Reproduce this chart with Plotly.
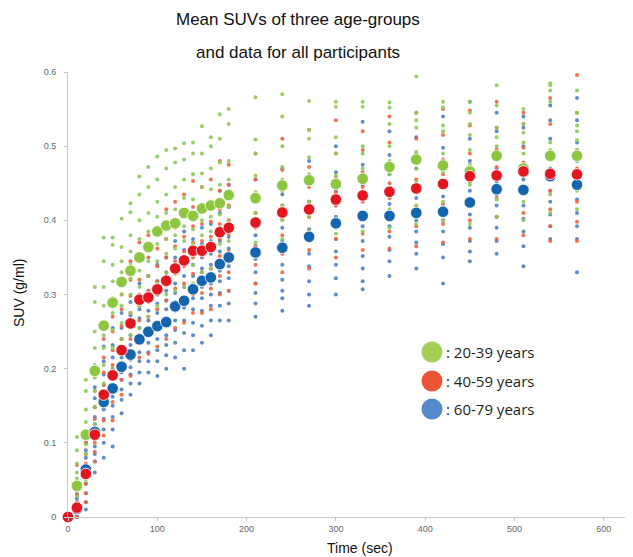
import plotly.graph_objects as go

# ---------------- data ----------------
times = [0, 10, 20, 30, 40, 50, 60, 70, 80, 90, 100, 110, 120, 130, 140, 150, 160, 170, 180,
         210, 240, 270, 300, 330, 360, 390, 420, 450, 480, 510, 540, 570]

green_mean = [0, 0.042, 0.111, 0.197, 0.258, 0.289, 0.317, 0.332, 0.350, 0.364, 0.385, 0.393,
              0.396, 0.410, 0.406, 0.416, 0.420, 0.423, 0.434, 0.430, 0.447, 0.454, 0.449,
              0.456, 0.472, 0.482, 0.474, 0.466, 0.487, 0.470, 0.487, 0.487]
red_mean = [0, 0.0126, 0.058, 0.111, 0.165, 0.191, 0.225, 0.261, 0.293, 0.296, 0.307, 0.3185,
            0.335, 0.346, 0.359, 0.359, 0.364, 0.384, 0.390, 0.397, 0.4106, 0.4147, 0.428,
            0.4335, 0.4385, 0.443, 0.449, 0.4596, 0.4605, 0.466, 0.4627, 0.462]
blue_mean = [0, 0.0108, 0.064, 0.1146, 0.155, 0.1734, 0.2026, 0.219, 0.2395, 0.2497, 0.2574,
             0.2628, 0.284, 0.2915, 0.307, 0.3185, 0.323, 0.341, 0.350, 0.3567, 0.363, 0.3778,
             0.396, 0.406, 0.406, 0.410, 0.4115, 0.424, 0.442, 0.441, 0.4596, 0.448]

green_pts = [
    [0, 0, 0],
    [0.018, 0.028, 0.036, 0.044, 0.052, 0.060, 0.072, 0.090, 0.108],
    [0.050, 0.068, 0.085, 0.098, 0.112, 0.128, 0.145, 0.170, 0.185],
    [0.125, 0.148, 0.170, 0.188, 0.205, 0.228, 0.250, 0.290, 0.310],
    [0.180, 0.205, 0.228, 0.245, 0.262, 0.285, 0.310, 0.345, 0.377],
    [0.200, 0.228, 0.252, 0.275, 0.295, 0.318, 0.340, 0.367, 0.377],
    [0.240, 0.262, 0.285, 0.300, 0.315, 0.330, 0.345, 0.364, 0.402],
    [0.245, 0.275, 0.300, 0.322, 0.340, 0.358, 0.380, 0.411, 0.423],
    [0.255, 0.285, 0.310, 0.332, 0.352, 0.375, 0.400, 0.435, 0.459],
    [0.270, 0.300, 0.325, 0.345, 0.365, 0.385, 0.410, 0.445, 0.472],
    [0.285, 0.315, 0.345, 0.368, 0.385, 0.405, 0.425, 0.455, 0.486],
    [0.300, 0.330, 0.355, 0.375, 0.392, 0.410, 0.435, 0.470, 0.495],
    [0.305, 0.335, 0.362, 0.380, 0.398, 0.415, 0.445, 0.478, 0.497],
    [0.310, 0.345, 0.372, 0.392, 0.410, 0.430, 0.455, 0.482, 0.504],
    [0.315, 0.340, 0.368, 0.388, 0.405, 0.428, 0.462, 0.490, 0.505],
    [0.330, 0.355, 0.380, 0.400, 0.418, 0.445, 0.463, 0.490, 0.527],
    [0.335, 0.362, 0.385, 0.405, 0.420, 0.442, 0.470, 0.500, 0.512],
    [0.340, 0.368, 0.390, 0.408, 0.425, 0.448, 0.478, 0.510, 0.543],
    [0.345, 0.372, 0.398, 0.418, 0.436, 0.455, 0.480, 0.530, 0.550],
    [0.370, 0.392, 0.410, 0.425, 0.438, 0.460, 0.490, 0.509, 0.566],
    [0.375, 0.400, 0.420, 0.440, 0.455, 0.472, 0.500, 0.540, 0.570],
    [0.385, 0.405, 0.425, 0.448, 0.462, 0.485, 0.510, 0.522, 0.561],
    [0.382, 0.402, 0.428, 0.445, 0.460, 0.490, 0.512, 0.553, 0.560],
    [0.385, 0.410, 0.430, 0.452, 0.470, 0.490, 0.500, 0.553, 0.560],
    [0.390, 0.415, 0.440, 0.462, 0.480, 0.500, 0.530, 0.552, 0.559],
    [0.395, 0.420, 0.452, 0.470, 0.492, 0.525, 0.535, 0.545, 0.594],
    [0.400, 0.425, 0.445, 0.465, 0.490, 0.520, 0.528, 0.552, 0.560],
    [0.395, 0.420, 0.448, 0.475, 0.495, 0.515, 0.530, 0.545, 0.560],
    [0.405, 0.428, 0.460, 0.485, 0.500, 0.512, 0.525, 0.555, 0.582],
    [0.400, 0.425, 0.445, 0.470, 0.490, 0.505, 0.518, 0.530, 0.550],
    [0.410, 0.435, 0.465, 0.495, 0.505, 0.560, 0.575, 0.582, 0.585],
    [0.415, 0.440, 0.468, 0.495, 0.508, 0.520, 0.528, 0.545, 0.575],
]

red_pts = [
    [0, 0],
    [0.000, 0.005, 0.010, 0.015, 0.020, 0.030, 0.045, 0.070],
    [0.020, 0.032, 0.045, 0.055, 0.062, 0.072, 0.085, 0.100],
    [0.075, 0.088, 0.100, 0.110, 0.120, 0.132, 0.148, 0.170],
    [0.110, 0.130, 0.150, 0.165, 0.178, 0.195, 0.215, 0.240],
    [0.130, 0.155, 0.175, 0.190, 0.205, 0.225, 0.250, 0.270],
    [0.165, 0.185, 0.205, 0.222, 0.240, 0.258, 0.280, 0.300],
    [0.190, 0.215, 0.240, 0.258, 0.275, 0.298, 0.320, 0.345],
    [0.215, 0.240, 0.265, 0.285, 0.300, 0.320, 0.345, 0.370],
    [0.220, 0.245, 0.270, 0.290, 0.305, 0.325, 0.350, 0.380],
    [0.230, 0.255, 0.280, 0.300, 0.318, 0.338, 0.362, 0.390],
    [0.240, 0.268, 0.292, 0.312, 0.330, 0.350, 0.375, 0.415],
    [0.255, 0.282, 0.308, 0.328, 0.345, 0.365, 0.390, 0.425],
    [0.262, 0.290, 0.315, 0.338, 0.358, 0.378, 0.405, 0.435],
    [0.275, 0.300, 0.328, 0.350, 0.370, 0.392, 0.418, 0.453],
    [0.275, 0.302, 0.330, 0.352, 0.372, 0.395, 0.420, 0.445],
    [0.280, 0.308, 0.335, 0.358, 0.378, 0.398, 0.425, 0.455],
    [0.300, 0.325, 0.352, 0.375, 0.395, 0.415, 0.440, 0.480],
    [0.305, 0.330, 0.358, 0.382, 0.400, 0.420, 0.448, 0.475],
    [0.315, 0.340, 0.365, 0.390, 0.410, 0.428, 0.455, 0.490],
    [0.330, 0.355, 0.380, 0.402, 0.420, 0.440, 0.468, 0.510],
    [0.335, 0.360, 0.385, 0.405, 0.425, 0.445, 0.472, 0.522],
    [0.350, 0.375, 0.400, 0.420, 0.438, 0.458, 0.490, 0.535],
    [0.360, 0.382, 0.405, 0.425, 0.445, 0.465, 0.495, 0.520],
    [0.362, 0.385, 0.410, 0.430, 0.450, 0.470, 0.505, 0.540],
    [0.365, 0.392, 0.418, 0.438, 0.455, 0.478, 0.510, 0.545],
    [0.370, 0.395, 0.422, 0.445, 0.462, 0.482, 0.515, 0.550],
    [0.375, 0.400, 0.428, 0.452, 0.470, 0.490, 0.528, 0.548],
    [0.375, 0.405, 0.430, 0.455, 0.472, 0.495, 0.525, 0.560],
    [0.380, 0.410, 0.438, 0.460, 0.478, 0.498, 0.530, 0.545],
    [0.372, 0.392, 0.415, 0.440, 0.460, 0.490, 0.530, 0.565],
    [0.372, 0.398, 0.425, 0.450, 0.470, 0.495, 0.545, 0.596],
]

blue_pts = [
    [0, 0],
    [0.000, 0.000, 0.003, 0.006, 0.008, 0.012, 0.015, 0.020, 0.025, 0.030, 0.035],
    [0.010, 0.020, 0.032, 0.045, 0.055, 0.062, 0.070, 0.080, 0.090, 0.100, 0.115],
    [0.060, 0.075, 0.085, 0.095, 0.105, 0.115, 0.125, 0.135, 0.148, 0.160, 0.175],
    [0.080, 0.100, 0.118, 0.132, 0.145, 0.155, 0.165, 0.178, 0.192, 0.210, 0.230],
    [0.095, 0.118, 0.135, 0.150, 0.162, 0.175, 0.188, 0.200, 0.215, 0.232, 0.255],
    [0.140, 0.158, 0.172, 0.185, 0.195, 0.205, 0.215, 0.228, 0.240, 0.255, 0.275],
    [0.165, 0.180, 0.192, 0.202, 0.212, 0.222, 0.232, 0.245, 0.258, 0.272, 0.290],
    [0.180, 0.195, 0.210, 0.222, 0.235, 0.245, 0.255, 0.268, 0.280, 0.295, 0.315],
    [0.195, 0.210, 0.222, 0.235, 0.245, 0.255, 0.265, 0.278, 0.292, 0.305, 0.325],
    [0.190, 0.210, 0.225, 0.240, 0.252, 0.262, 0.275, 0.288, 0.300, 0.318, 0.340],
    [0.200, 0.218, 0.232, 0.245, 0.258, 0.268, 0.280, 0.292, 0.305, 0.325, 0.350],
    [0.215, 0.235, 0.252, 0.265, 0.278, 0.290, 0.302, 0.315, 0.330, 0.350, 0.372],
    [0.200, 0.225, 0.248, 0.265, 0.282, 0.295, 0.310, 0.325, 0.342, 0.360, 0.385],
    [0.225, 0.245, 0.262, 0.280, 0.295, 0.310, 0.325, 0.340, 0.355, 0.375, 0.400],
    [0.235, 0.258, 0.278, 0.295, 0.310, 0.322, 0.335, 0.350, 0.368, 0.390, 0.420],
    [0.245, 0.265, 0.285, 0.300, 0.315, 0.328, 0.340, 0.355, 0.372, 0.395, 0.425],
    [0.265, 0.285, 0.302, 0.318, 0.332, 0.345, 0.358, 0.372, 0.390, 0.410, 0.440],
    [0.265, 0.288, 0.305, 0.322, 0.338, 0.350, 0.362, 0.378, 0.395, 0.418, 0.448],
    [0.270, 0.288, 0.302, 0.315, 0.330, 0.348, 0.365, 0.380, 0.398, 0.425, 0.455],
    [0.278, 0.295, 0.305, 0.320, 0.340, 0.358, 0.372, 0.390, 0.410, 0.435, 0.470],
    [0.285, 0.300, 0.318, 0.338, 0.355, 0.372, 0.388, 0.405, 0.425, 0.450, 0.480],
    [0.300, 0.322, 0.340, 0.358, 0.375, 0.390, 0.405, 0.420, 0.440, 0.465, 0.500],
    [0.307, 0.318, 0.335, 0.352, 0.372, 0.392, 0.410, 0.428, 0.448, 0.475, 0.533],
    [0.325, 0.345, 0.360, 0.378, 0.392, 0.408, 0.422, 0.440, 0.462, 0.488, 0.520],
    [0.335, 0.355, 0.370, 0.385, 0.400, 0.415, 0.430, 0.448, 0.470, 0.490, 0.512],
    [0.315, 0.350, 0.368, 0.385, 0.400, 0.415, 0.432, 0.450, 0.472, 0.498, 0.540],
    [0.345, 0.358, 0.372, 0.390, 0.408, 0.425, 0.440, 0.458, 0.480, 0.510, 0.560],
    [0.355, 0.372, 0.390, 0.405, 0.420, 0.435, 0.452, 0.470, 0.495, 0.520, 0.545],
    [0.338, 0.365, 0.385, 0.402, 0.420, 0.438, 0.455, 0.475, 0.500, 0.525, 0.540],
    [0.375, 0.392, 0.408, 0.425, 0.440, 0.455, 0.470, 0.488, 0.510, 0.535, 0.555],
    [0.330, 0.375, 0.392, 0.410, 0.428, 0.445, 0.462, 0.480, 0.505, 0.535, 0.565],
]

group_labels = ["20-39 years", "40-59 years", "60-79 years"]
x_ticks = [0, 100, 200, 300, 400, 500, 600]
y_ticks = [0, 0.1, 0.2, 0.3, 0.4, 0.5, 0.6]
y_tick_text = ["0", "0.1", "0.2", "0.3", "0.4", "0.5", "0.6"]

# ---------------- styling ----------------
dot_colors = {"g": "#8fc95a", "r": "#ee6540", "b": "#4f7fc6"}
mean_colors = {"g": "#8dc63f", "r": "#e3161f", "b": "#1464ae"}
legend_colors = ["#a6cf55", "#eb5535", "#5589c9"]

OFF = 8  # page body margin in the browser
W, H = 633 - OFF, 557 - OFF
L, R, T, B = 68 - OFF, 0, 72 - OFF, 40
PW, PH = W - L - R, H - T - B


def px_x(X):
    return (X - OFF - L) / PW


def px_y(Y):
    return (H - B - (Y - OFF)) / PH


def flatten(pts):
    xs, ys = [], []
    for t, vals in zip(times, pts):
        for v in vals:
            xs.append(t)
            ys.append(v)
    return xs, ys


fig = go.Figure()

for key, pts in (("b", blue_pts), ("r", red_pts), ("g", green_pts)):
    xs, ys = flatten(pts)
    fig.add_trace(go.Scatter(
        x=xs, y=ys, mode="markers", showlegend=False, hoverinfo="skip",
        marker=dict(size=4, color=dot_colors[key], opacity=0.9, line=dict(width=0)),
        cliponaxis=False,
    ))

for key, means in (("g", green_mean), ("b", blue_mean), ("r", red_mean)):
    fig.add_trace(go.Scatter(
        x=times, y=means, mode="markers", showlegend=False,
        marker=dict(size=11.5, color=mean_colors[key], line=dict(width=0.8, color="white")),
        cliponaxis=False,
    ))

# custom legend
leg_x = 432
leg_y = [352, 381, 409]
for i, (lab, col) in enumerate(zip(group_labels, legend_colors)):
    fig.add_shape(type="circle", xref="paper", yref="paper",
                  xsizemode="pixel", ysizemode="pixel",
                  xanchor=px_x(leg_x), yanchor=px_y(leg_y[i]),
                  x0=-10.5, x1=10.5, y0=-10.5, y1=10.5,
                  fillcolor=col, line=dict(width=0))
    fig.add_annotation(xref="paper", yref="paper", x=px_x(444), y=px_y(leg_y[i]),
                       xanchor="left", yanchor="middle", showarrow=False,
                       text=": " + lab,
                       font=dict(family="Open Sans, Lato, sans-serif", size=15, color="#231f20"))

# titles
title_font = dict(family="Liberation Sans, Arial", size=17, color="#111")
fig.add_annotation(xref="paper", yref="paper", x=px_x(298), y=px_y(20), xanchor="center",
                   yanchor="middle", showarrow=False, text="Mean SUVs of three age-groups", font=title_font)
fig.add_annotation(xref="paper", yref="paper", x=px_x(298), y=px_y(53), xanchor="center",
                   yanchor="middle", showarrow=False, text="and data for all participants", font=title_font)

axis_title_font = dict(family="Liberation Sans, Arial", size=14, color="#111")
fig.add_annotation(xref="paper", yref="paper", x=px_x(360), y=px_y(548), xanchor="center",
                   yanchor="middle", showarrow=False, text="Time (sec)", font=axis_title_font)
fig.add_annotation(xref="paper", yref="paper", x=px_x(19), y=px_y(293), xanchor="center",
                   yanchor="middle", showarrow=False, text="SUV (g/ml)", textangle=-90,
                   font=axis_title_font)

tick_font = dict(family="Liberation Sans, Arial", size=9, color="#666")
fig.update_xaxes(range=[0, PW / 0.893], tickvals=x_ticks, ticks="outside", ticklen=3,
                 tickcolor="#c8c8c8", showline=True, linecolor="#c8c8c8", linewidth=1,
                 showgrid=False, zeroline=False, tickfont=tick_font)
fig.update_yaxes(range=[0, 0.6], tickvals=y_ticks, ticktext=y_tick_text, ticks="outside",
                 ticklen=3, tickcolor="#c8c8c8", showline=True, linecolor="#c8c8c8",
                 linewidth=1, showgrid=False, zeroline=False, tickfont=tick_font,
                 ticklabelstandoff=6)

fig.update_layout(width=W, height=H, margin=dict(l=L, r=R, t=T, b=B),
                  plot_bgcolor="white", paper_bgcolor="white")

fig.write_html("out.html")
